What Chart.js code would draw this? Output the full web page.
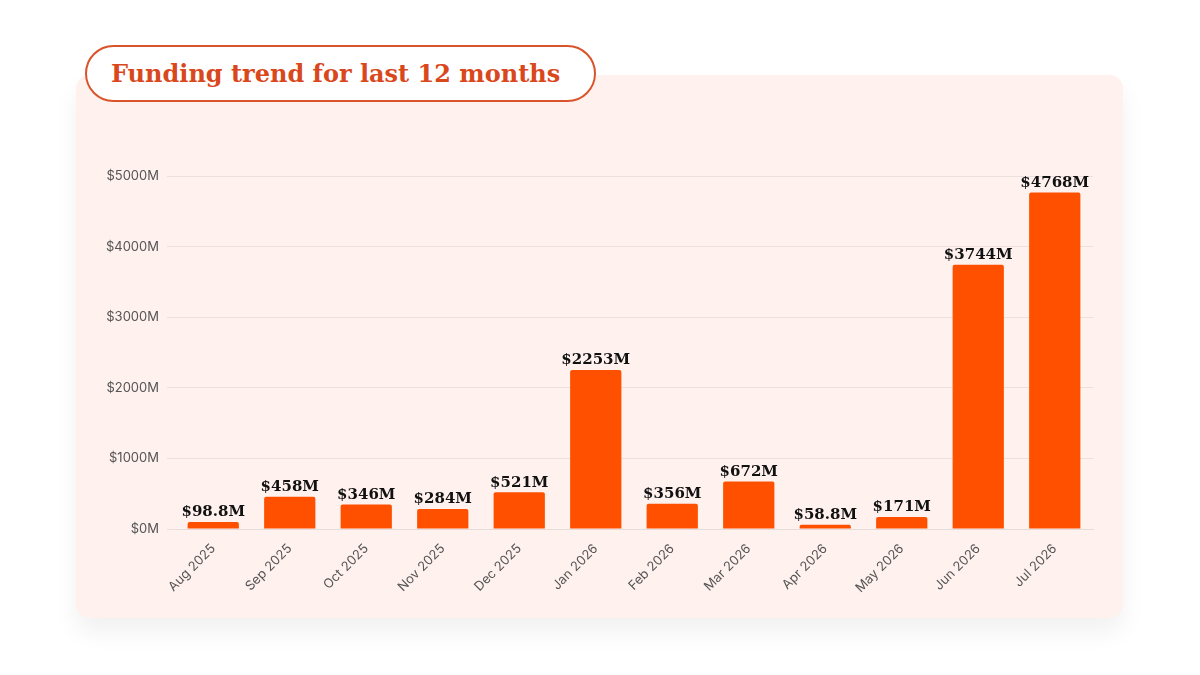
<!DOCTYPE html>
<html>
<head>
<meta charset="utf-8">
<script src="https://cdn.jsdelivr.net/npm/chart.js@4"></script>
<style>
  html, body { margin: 0; width: 1200px; height: 675px; background: #fff; overflow: hidden; }
  #card {
    position: absolute; left: 76px; top: 75px; width: 1047px; height: 543px;
    background: #fff1ee; border-radius: 14px;
    box-shadow: 0 14px 24px rgba(0,0,0,0.06);
  }
  #title {
    position: absolute; left: 85px; top: 45px; width: 507px; height: 53px;
    border: 2px solid #d9542a; border-radius: 30px; background: #fff;
    font-family: "DejaVu Serif", "Liberation Serif", serif; font-weight: bold;
    font-size: 24px; color: #d9481c; line-height: 53px; padding-left: 24px; box-sizing: content-box;
    width: 483px;
  }
  canvas { position: absolute; left: 0; top: 0; }
</style>
</head>
<body>
<div id="card"><canvas id="chart" width="1047" height="543"></canvas></div>
<div id="title">Funding trend for last 12 months</div>
<script>
// Monthly funding, in $M
var months = ["Aug 2025", "Sep 2025", "Oct 2025", "Nov 2025", "Dec 2025", "Jan 2026",
              "Feb 2026", "Mar 2026", "Apr 2026", "May 2026", "Jun 2026", "Jul 2026"];
var funding = [98.8, 458, 346, 284, 521, 2253, 356, 672, 58.8, 171, 3744, 4768];
var fundingLabels = ["$98.8M", "$458M", "$346M", "$284M", "$521M", "$2253M",
                     "$356M", "$672M", "$58.8M", "$171M", "$3744M", "$4768M"];

// Draw value labels above each bar
var valueLabels = {
  id: "valueLabels",
  afterDatasetsDraw: function (chart) {
    var ctx = chart.ctx;
    ctx.save();
    ctx.font = "bold 15px 'DejaVu Serif', 'Liberation Serif', serif";
    ctx.fillStyle = "#111";
    ctx.textAlign = "center";
    ctx.textBaseline = "bottom";
    chart.getDatasetMeta(0).data.forEach(function (bar, i) {
      ctx.fillText(fundingLabels[i], bar.x, bar.y - 2);
    });
    ctx.restore();
  }
};

new Chart(document.getElementById("chart"), {
  type: "bar",
  data: {
    labels: months,
    datasets: [{
      data: funding,
      backgroundColor: "#ff5000",
      barPercentage: 0.67,
      categoryPercentage: 1,
      borderRadius: 2
    }]
  },
  options: {
    responsive: false,
    animation: false,
    layout: { padding: { left: 20, right: 30, top: 101, bottom: 0 } },
    plugins: { legend: { display: false }, tooltip: { enabled: false } },
    scales: {
      x: {
        grid: { display: false },
        border: { color: "#e6dcda" },
        ticks: {
          color: "#555", font: { family: "Inter, 'Liberation Sans', sans-serif", size: 13 },
          maxRotation: 45, minRotation: 45, padding: 4
        },
        afterFit: function (s) { s.height = 89; }
      },
      y: {
        min: 0, max: 5000,
        grid: { color: "#ebe0de" },
        border: { display: false },
        ticks: {
          stepSize: 1000, color: "#555", padding: 8,
          font: { family: "Inter, 'Liberation Sans', sans-serif", size: 13 },
          callback: function (v) { return "$" + v + "M"; }
        },
        afterFit: function (s) { s.width = 79; }
      }
    }
  },
  plugins: [valueLabels]
});
</script>
</body>
</html>
